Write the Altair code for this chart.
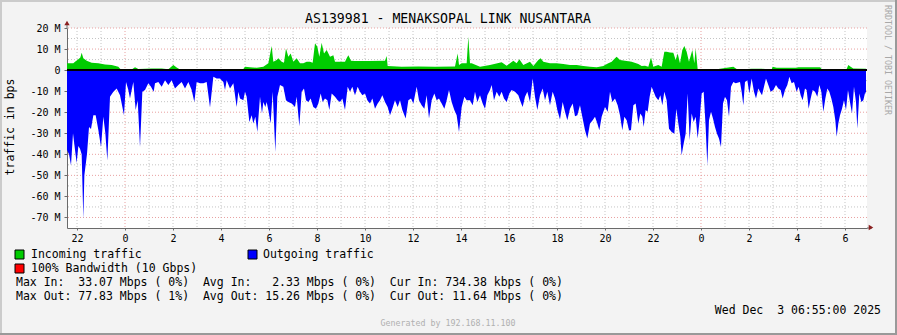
import altair as alt
import pandas as pd

MONO = "DejaVu Sans Mono"

TITLE = "AS139981 - MENAKSOPAL LINK NUSANTARA"
Y_TITLE = "traffic in bps"
SIDE_TEXT = "RRDTOOL / TOBI OETIKER"
LEGEND_IN = "Incoming traffic"
LEGEND_OUT = "Outgoing traffic"
LEGEND_BW = "100% Bandwidth (10 Gbps)"
STATS_IN = "Max In:  33.07 Mbps ( 0%)  Avg In:   2.33 Mbps ( 0%)  Cur In: 734.38 kbps ( 0%)"
STATS_OUT = "Max Out: 77.83 Mbps ( 1%)  Avg Out: 15.26 Mbps ( 0%)  Cur Out: 11.64 Mbps ( 0%)"
DATE_TEXT = "Wed Dec  3 06:55:00 2025"
GEN_TEXT = "Generated by 192.168.11.100"

# time axis: hours since Dec 2 00:00 (window Dec 1 21:35 .. Dec 3 06:55)
X_START, X_END = -2.417, 30.917

# Incoming traffic (Mbps)
in_hours = [
    -2.417, -2.153, -2.083, -1.944, -1.861, -1.806, -1.736, -1.597, -1.389, -1.111,
    -0.833, -0.556, -0.278, -0.194, 0.0, 0.278, 0.417, 0.556, 1.111, 1.528,
    1.806, 2.014, 2.153, 2.292, 3.056,
    3.403, 3.958, 4.514, 4.931, 5.0, 5.208, 5.486, 5.764, 5.972, 6.111,
    6.181, 6.319, 6.389, 6.528, 6.625, 6.708, 6.806, 6.903, 7.014, 7.153,
    7.292, 7.431, 7.569, 7.708, 7.819, 7.917, 8.014, 8.097, 8.194, 8.292,
    8.403, 8.542, 8.681,
    8.75, 9.167, 9.236, 9.306, 9.417, 9.583, 10.139, 10.833, 10.903, 10.944,
    11.528, 12.222, 12.917, 13.75, 13.861, 13.917, 14.028, 14.236, 14.306,
    14.375, 14.444, 14.792, 15.208, 15.694, 15.903, 16.181, 16.319, 16.431, 16.597,
    16.875, 17.014, 17.222, 17.319, 17.431, 17.708, 17.986, 18.264, 18.542, 18.819,
    19.097, 19.375, 19.653, 19.931,
    20.0, 20.139, 20.278, 20.417, 20.486, 20.625, 20.833, 21.111, 21.389, 21.528,
    21.667, 21.806, 21.917, 22.014, 22.222, 22.361, 22.472, 22.569, 22.708, 22.847,
    22.944, 23.028, 23.125, 23.222, 23.306, 23.403, 23.5, 23.639, 23.722, 23.778,
    23.861, 24.167, 24.722, 25.347, 25.486,
    25.625, 26.111, 26.319, 26.528, 26.944, 26.986, 27.153, 27.986, 28.056, 28.958,
    29.028, 30.069, 30.139, 30.236, 30.347, 30.875,
]
in_mbps = [
    3.2, 3.2, 4.0, 5.1, 6.0, 8.3, 5.6, 4.4, 3.5, 3.2,
    2.7, 2.4, 1.6, 0.5, 0.3, 0.3, 1.4, 0.5, 0.8, 0.8,
    0.4, 2.4, 1.2, 0.3, 0.3,
    0.4, 0.5, 0.3, 0.5, 1.6, 1.4, 1.1, 1.6, 3.2, 11.4,
    4.0, 4.8, 5.6, 4.0, 3.5, 10.3, 6.3, 7.9, 4.0, 5.6,
    3.2, 3.2, 4.0, 4.0, 3.5, 12.7, 11.1, 6.3, 13.0, 7.9,
    9.5, 6.3, 7.1,
    4.0, 4.0, 5.6, 7.1, 4.4, 4.3, 4.3, 4.4, 6.7, 1.9,
    1.6, 1.7, 1.6, 1.7, 7.9, 2.4, 3.2, 3.2, 15.9,
    3.2, 3.2, 1.6, 2.4, 3.7, 2.1, 4.4, 3.2, 5.1, 2.4,
    4.0, 1.9, 4.8, 5.6, 4.0, 3.2, 3.2, 2.9, 2.4, 2.4,
    1.9, 1.6, 1.3, 1.9,
    2.4, 3.2, 4.0, 5.6, 6.3, 4.8, 4.4, 4.0, 2.9, 1.9,
    2.1, 1.6, 6.0, 1.6, 2.4, 1.6, 8.7, 8.7, 8.4, 8.3,
    4.8, 7.9, 3.2, 9.5, 11.4, 8.7, 4.0, 9.5, 3.2, 10.3,
    0.5, 0.4, 0.5, 1.6, 0.5,
    0.3, 0.6, 0.6, 0.6, 0.3, 1.6, 1.1, 1.1, 1.4, 1.4,
    0.5, 0.5, 2.4, 1.6, 0.8, 0.7,
]

# Outgoing traffic (Mbps, drawn below zero)
out_hours = [
    -2.417, -2.333, -2.25, -2.167, -2.083, -2.014, -1.944, -1.875, -1.806, -1.736,
    -1.694, -1.639, -1.583, -1.5, -1.417, -1.319, -1.222, -1.111, -1.0, -0.903,
    -0.819, -0.736, -0.625, -0.486, -0.347, -0.208, -0.139, -0.042, 0.042, 0.139,
    0.208, 0.278, 0.347, 0.444, 0.528, 0.625, 0.722, 0.833, 0.972, 1.083,
    1.194, 1.25, 1.389, 1.528, 1.667, 1.806, 1.944, 2.083, 2.222, 2.361,
    2.5, 2.639, 2.778, 2.889, 2.986,
    3.125, 3.264, 3.403, 3.542, 3.681, 3.819, 3.958, 4.097, 4.167, 4.236,
    4.375, 4.514, 4.653, 4.722, 4.792, 4.931, 5.0, 5.069, 5.181, 5.278,
    5.347, 5.431, 5.514, 5.625, 5.708, 5.764, 5.847, 5.903, 5.972, 6.069,
    6.153, 6.264, 6.347, 6.458, 6.597, 6.708, 6.806, 6.944, 7.083, 7.153,
    7.264, 7.361, 7.458, 7.542, 7.639, 7.736, 7.847, 7.958, 8.056, 8.153,
    8.236, 8.333, 8.431, 8.514, 8.611,
    8.75, 8.861, 8.958, 9.056, 9.167, 9.278, 9.375, 9.472, 9.583, 9.694,
    9.792, 9.889, 10.0, 10.097, 10.208, 10.306, 10.417, 10.528, 10.625, 10.722,
    10.833, 10.944, 11.042, 11.139, 11.25, 11.361, 11.458, 11.556, 11.694, 11.806,
    11.917, 12.014, 12.153, 12.25, 12.361, 12.472, 12.569, 12.667, 12.778, 12.889,
    12.986, 13.083, 13.194, 13.306, 13.403, 13.5, 13.611, 13.722, 13.819, 13.917,
    14.028, 14.139, 14.236,
    14.375, 14.486, 14.583, 14.681, 14.792, 14.903, 15.0, 15.097, 15.208, 15.278,
    15.375, 15.486, 15.597, 15.694, 15.792, 15.903, 16.014, 16.111, 16.25, 16.389,
    16.486, 16.569, 16.667, 16.764, 16.875, 16.986, 17.083, 17.181, 17.292, 17.403,
    17.5, 17.597, 17.708, 17.819, 17.917, 18.014, 18.125, 18.236, 18.333, 18.431,
    18.542, 18.653, 18.75, 18.847, 18.958, 19.069, 19.167, 19.264, 19.375, 19.486,
    19.583, 19.681, 19.764, 19.861,
    20.0, 20.111, 20.208, 20.306, 20.417, 20.528, 20.625, 20.722, 20.806, 20.903,
    21.0, 21.083, 21.181, 21.278, 21.389, 21.472, 21.556, 21.611, 21.694, 21.778,
    21.861, 21.944, 22.028, 22.111, 22.222, 22.306, 22.389, 22.472, 22.569, 22.667,
    22.778, 22.889, 22.972, 23.056, 23.139, 23.194, 23.278, 23.361, 23.444, 23.528,
    23.611, 23.694, 23.778, 23.861, 23.944, 24.028, 24.111, 24.194, 24.264, 24.333,
    24.417, 24.5, 24.583, 24.667, 24.75, 24.833, 24.917, 25.0, 25.083, 25.167,
    25.25, 25.347, 25.444,
    25.625, 25.694, 25.764, 25.833, 25.931, 26.014, 26.111, 26.208, 26.292, 26.389,
    26.458, 26.542, 26.625, 26.708, 26.806, 26.903, 27.014, 27.125, 27.222, 27.319,
    27.403, 27.5, 27.597, 27.681, 27.778, 27.875, 27.986, 28.069, 28.153, 28.236,
    28.333, 28.403, 28.486, 28.569, 28.653, 28.75, 28.847, 28.931, 29.014, 29.097,
    29.181, 29.264, 29.347, 29.431, 29.514, 29.597, 29.653, 29.722, 29.792, 29.875,
    29.958, 30.042, 30.125, 30.208, 30.292, 30.375, 30.458, 30.514, 30.597, 30.681,
    30.764, 30.847, 30.875,
]
out_mbps = [
    38, 40, 45.2, 30, 38, 44.1, 36, 37.3, 40, 70.6,
    50, 45, 39.7, 27, 28, 21.4, 21.4, 28.5, 36.5, 22.2,
    30, 42.9, 12.7, 10.3, 8.7, 11.9, 15.9, 21.4, 5.6, 9.5,
    13.5, 9.5, 5.6, 19.0, 14.3, 36.5, 10.3, 9.5, 6.3, 7.9,
    10.3, 6.3, 5.6, 7.9, 4.8, 7.1, 4.8, 8.7, 7.1, 5.6,
    8.7, 5.6, 9.5, 15.1, 5.6,
    6.3, 6.3, 5.6, 17.8, 3.2, 4.0, 4.0, 5.6, 9.5, 4.8,
    8.7, 6.3, 17.5, 10.3, 13.5, 14.3, 10.3, 12.7, 24.6, 21.4,
    25.4, 22.2, 29.4, 12.7, 20.6, 15.1, 17.5, 15.1, 19.0, 25.4,
    10.3, 38.9, 12.7, 7.1, 7.9, 14.3, 15.1, 15.9, 17.5, 12.7,
    26.7, 10.3, 8.7, 14.3, 15.1, 13.5, 17.5, 18.3, 15.9, 11.1,
    15.1, 13.5, 14.3, 19.0, 11.1,
    12.7, 14.3, 15.1, 13.5, 19.0, 7.9, 10.3, 7.9, 11.9, 7.9,
    10.3, 11.9, 11.1, 14.3, 15.9, 13.5, 18.3, 15.9, 14.3, 11.9,
    15.1, 17.5, 21.4, 18.3, 14.3, 17.5, 14.3, 19.0, 23.0, 14.3,
    13.5, 15.9, 7.9, 14.3, 16.7, 18.3, 11.9, 23.0, 14.3, 11.1,
    14.3, 13.5, 15.9, 18.3, 14.3, 9.5, 15.1, 19.0, 21.4, 29.4,
    17.5, 12.7, 14.3,
    14.3, 16.7, 10.3, 15.1, 11.9, 15.9, 18.3, 11.9, 9.5, 7.1,
    14.3, 10.3, 12.7, 10.3, 13.5, 15.1, 11.1, 9.5, 10.3, 11.9,
    15.1, 17.5, 12.7, 10.3, 15.1, 4.0, 12.7, 19.0, 11.9, 8.7,
    14.3, 10.3, 16.7, 10.3, 13.5, 19.0, 23.5, 15.1, 19.8, 23.8,
    18.3, 15.9, 21.9, 21.4, 16.7, 23.0, 28.6, 32.5, 25.4, 23.8,
    22.2, 25.4, 28.6, 22.2,
    17.5, 19.8, 10.3, 15.1, 13.5, 16.7, 21.4, 28.6, 22.2, 23.8,
    28.6, 28.6, 16.7, 15.9, 25.4, 20.6, 22.2, 27.0, 19.0, 19.8,
    12.7, 7.9, 10.3, 12.7, 14.3, 11.9, 16.7, 10.3, 14.3, 27.8,
    29.4, 30.2, 18.3, 25.4, 31.7, 40.5, 34.9, 30.2, 11.1, 33.3,
    20.6, 24.6, 22.2, 32.5, 23.8, 11.1, 10.3, 27.0, 45.2, 23.8,
    19.8, 23.0, 27.0, 30.2, 32.5, 36.5, 15.9, 12.7, 14.3, 22.2,
    7.9, 5.6, 6.3,
    5.6, 10.3, 16.7, 5.6, 4.8, 11.1, 4.0, 10.3, 13.5, 8.7,
    10.3, 11.9, 7.9, 4.0, 7.1, 10.3, 9.5, 7.1, 8.7, 9.5,
    13.5, 9.5, 7.1, 3.2, 6.3, 5.6, 10.3, 7.9, 11.9, 14.3,
    8.7, 9.5, 18.3, 13.5, 9.5, 10.3, 12.7, 7.1, 10.3, 19.8,
    13.5, 8.7, 10.3, 13.5, 17.5, 23.8, 31.7, 25.4, 21.4, 18.3,
    14.3, 19.0, 9.5, 15.1, 20.6, 7.9, 15.1, 27.8, 11.1, 15.1,
    14.3, 10.3, 11.6,
]

y_ticks = [20, 10, 0, -10, -20, -30, -40, -50, -60, -70]
y_major = [20, 10, -10, -20, -30, -40, -50, -60, -70]
y_minor = [15, 5, -5, -15, -25, -35, -45, -55, -65]
x_labels = list(range(-2, 31, 2))
hour_lines = [h for h in range(-2, 31) if h not in (0, 24)]
midnights = [0, 24]

# ---------------------------------------------------------------------------
W, H = 800, 200
PAD_L, PAD_T = 67, 28
NB = "\u00a0"


def nb(s):
    return s.replace(" ", NB)


xs = alt.Scale(domain=[X_START, X_END], nice=False, zero=False)
ys = alt.Scale(domain=[-75, 20], nice=False, zero=False)

xaxis = alt.Axis(values=x_labels, labelExpr="((datum.value % 24) + 24) % 24",
                 grid=False, title=None, domainColor="#6a6a6a", tickColor="#6a6a6a",
                 tickSize=2, labelFont=MONO, labelFontSize=10, labelColor="#000000",
                 labelPadding=3, labelFlush=False, labelOverlap=False)
yaxis = alt.Axis(values=y_ticks, labelExpr="datum.value == 0 ? '0' : datum.value + ' M'",
                 grid=False, title=None, domainColor="#6a6a6a", tickColor="#6a6a6a",
                 tickSize=3, labelFont=MONO, labelFontSize=10, labelColor="#000000",
                 labelPadding=4, labelOverlap=False)


def X(field):
    return alt.X(f"{field}:Q", scale=xs, axis=xaxis)


def Y(field):
    return alt.Y(f"{field}:Q", scale=ys, axis=yaxis)


in_df = pd.DataFrame({"t": in_hours, "v": in_mbps})
out_df = pd.DataFrame({"t": out_hours, "v": [-v for v in out_mbps]})
dummy = pd.DataFrame({"a": [0]})

GRID_MINOR = "#c4c4c4"
GRID_MAJOR = "#e8a0a0"

layers = []
layers.append(alt.Chart(pd.DataFrame({"h": hour_lines})).mark_rule(
    color=GRID_MINOR, strokeWidth=1, strokeDash=[1, 2]).encode(x=X("h")))
layers.append(alt.Chart(pd.DataFrame({"y": y_minor})).mark_rule(
    color=GRID_MINOR, strokeWidth=1, strokeDash=[1, 2]).encode(y=Y("y")))
layers.append(alt.Chart(pd.DataFrame({"y": y_major})).mark_rule(
    color=GRID_MAJOR, strokeWidth=1, strokeDash=[1, 2]).encode(y=Y("y")))
layers.append(alt.Chart(pd.DataFrame({"h": midnights})).mark_rule(
    color=GRID_MAJOR, strokeWidth=1, strokeDash=[1, 2]).encode(x=X("h")))

layers.append(alt.Chart(in_df).mark_area(color="#00CC00", interpolate="linear").encode(
    x=X("t"), y=Y("v"), y2=alt.datum(0)))
layers.append(alt.Chart(out_df).mark_area(color="#0000FF", interpolate="linear").encode(
    x=X("t"), y=Y("v"), y2=alt.datum(0)))
layers.append(alt.Chart(pd.DataFrame({"y": [0]})).mark_rule(
    color="#000000", strokeWidth=2).encode(y=Y("y")))

# axis extensions and arrows
layers.append(alt.Chart(dummy).mark_rule(color="#6a6a6a").encode(
    x=alt.value(0), y=alt.value(0), y2=alt.value(-4)))
layers.append(alt.Chart(dummy).mark_rule(color="#6a6a6a").encode(
    x=alt.value(W), x2=alt.value(W + 5), y=alt.value(H)))
layers.append(alt.Chart(dummy).mark_point(shape="triangle-up", filled=True, color="#8b2020",
                                          size=28, opacity=1).encode(
    x=alt.value(0), y=alt.value(-5)))
layers.append(alt.Chart(dummy).mark_point(shape="triangle-right", filled=True, color="#8b2020",
                                          size=28, opacity=1).encode(
    x=alt.value(W + 4), y=alt.value(H - 0.5)))


def text_at(txt, x, y, size=11.5, color="#000000", align="left", angle=0):
    return alt.Chart(dummy).mark_text(
        text=nb(txt), font=MONO, fontSize=size, color=color, align=align,
        baseline="middle", angle=angle).encode(x=alt.value(x - PAD_L), y=alt.value(y - PAD_T))


def box_at(color, x, y):
    return alt.Chart(dummy).mark_rect(fill=color, stroke="#000000", strokeWidth=1).encode(
        x=alt.value(x - PAD_L), x2=alt.value(x + 9 - PAD_L),
        y=alt.value(y - PAD_T), y2=alt.value(y + 9 - PAD_T))


layers.append(text_at(TITLE, 448, 19, size=13.2, align="center"))
layers.append(text_at(Y_TITLE, 11, 127, size=11.5, align="center", angle=270))
layers.append(text_at(SIDE_TEXT, 887, 60, size=8.3, color="#a8a8a8", align="center", angle=90))

layers.append(box_at("#00CC00", 15, 250))
layers.append(text_at(LEGEND_IN, 31, 254.5))
layers.append(box_at("#0000FF", 248, 250))
layers.append(text_at(LEGEND_OUT, 263, 254.5))
layers.append(box_at("#FF0000", 15, 264))
layers.append(text_at(LEGEND_BW, 31, 268.5))
layers.append(text_at(STATS_IN, 16, 282.5))
layers.append(text_at(STATS_OUT, 16, 296.5))
layers.append(text_at(DATE_TEXT, 881, 310.5, align="right"))
layers.append(text_at(GEN_TEXT, 448, 324, size=8.3, color="#b0b0b0", align="center"))

# frame (light top/left, darker bottom/right)
layers.append(alt.Chart(dummy).mark_rect(fill="#cbcbcb").encode(
    x=alt.value(-PAD_L), x2=alt.value(897 - PAD_L), y=alt.value(-PAD_T), y2=alt.value(-PAD_T + 2)))
layers.append(alt.Chart(dummy).mark_rect(fill="#cbcbcb").encode(
    x=alt.value(-PAD_L), x2=alt.value(-PAD_L + 2), y=alt.value(-PAD_T), y2=alt.value(335 - PAD_T)))
layers.append(alt.Chart(dummy).mark_rect(fill="#999999").encode(
    x=alt.value(897 - PAD_L - 2), x2=alt.value(897 - PAD_L), y=alt.value(-PAD_T), y2=alt.value(335 - PAD_T)))
layers.append(alt.Chart(dummy).mark_rect(fill="#999999").encode(
    x=alt.value(-PAD_L), x2=alt.value(897 - PAD_L), y=alt.value(335 - PAD_T - 2), y2=alt.value(335 - PAD_T)))

chart = alt.layer(*layers).properties(
    width=W, height=H,
    autosize=alt.AutoSizeParams(type="none"),
    padding={"left": PAD_L, "top": PAD_T, "right": 897 - PAD_L - W, "bottom": 335 - PAD_T - H},
    background="#f3f3f3",
).configure_view(fill="#ffffff", stroke=None)

chart.save("out.html", embed_options={"renderer": "svg", "actions": False})
